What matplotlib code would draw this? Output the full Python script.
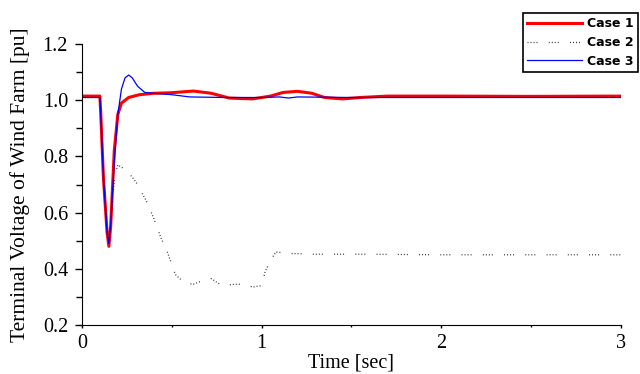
import matplotlib
matplotlib.use("Agg")
from matplotlib import pyplot as plt
from matplotlib.ticker import MultipleLocator

# Case 1 (red, thick)
t1 = [0.0, 0.10, 0.105, 0.12, 0.14, 0.15, 0.16, 0.18, 0.20, 0.22, 0.26, 0.32, 0.40,
      0.50, 0.62, 0.72, 0.82, 0.95, 1.05, 1.12, 1.20, 1.28, 1.35, 1.45, 1.55, 1.7, 2.0, 2.5, 3.0]
v1 = [1.015, 1.015, 0.95, 0.72, 0.53, 0.48, 0.55, 0.82, 0.95, 0.99, 1.01, 1.02, 1.025,
      1.027, 1.033, 1.025, 1.008, 1.005, 1.015, 1.028, 1.032, 1.025, 1.01, 1.005, 1.01, 1.015, 1.015, 1.014, 1.015]

# Case 2 (black dotted)
t2 = [0.0, 0.10, 0.105, 0.12, 0.14, 0.15, 0.16, 0.18, 0.20, 0.25, 0.30, 0.36, 0.40,
      0.44, 0.47, 0.52, 0.57, 0.62, 0.68, 0.72, 0.78, 0.85, 0.90, 0.95, 1.00, 1.02,
      1.05, 1.08, 1.15, 1.3, 1.6, 2.0, 2.5, 3.0]
v2 = [1.01, 1.01, 0.95, 0.75, 0.55, 0.50, 0.55, 0.72, 0.77, 0.75, 0.71, 0.64, 0.58,
      0.51, 0.47, 0.38, 0.35, 0.345, 0.36, 0.365, 0.34, 0.345, 0.345, 0.335, 0.34, 0.39,
      0.43, 0.46, 0.455, 0.452, 0.452, 0.45, 0.45, 0.45]

# Case 3 (blue, thin)
t3 = [0.0, 0.10, 0.105, 0.12, 0.14, 0.15, 0.16, 0.18, 0.20, 0.22, 0.24, 0.26, 0.28,
      0.31, 0.35, 0.40, 0.50, 0.60, 0.80, 1.0, 1.1, 1.15, 1.2, 1.5, 2.0, 2.5, 3.0]
v3 = [1.01, 1.01, 0.95, 0.72, 0.53, 0.49, 0.56, 0.78, 0.95, 1.04, 1.08, 1.09, 1.08,
      1.05, 1.028, 1.025, 1.02, 1.012, 1.01, 1.01, 1.012, 1.008, 1.012, 1.01, 1.01, 1.01, 1.01]

plt.rcParams["font.family"] = "Liberation Serif"

fig = plt.figure(figsize=(6.4, 3.74), dpi=100)
ax = fig.add_axes([0.128, 0.131, 0.842, 0.751])

ax.plot(t1, v1, color="red", linewidth=2.2, label="Case 1")
ax.plot(t2, v2, color="#333333", linewidth=0.9,
        linestyle=(0, (0.8, 1.6, 0.8, 1.6, 0.8, 1.6, 0.8, 9)), label="Case 2")
ax.plot(t3, v3, color="blue", linewidth=0.9, label="Case 3")

ax.set_xlim(0, 3)
ax.set_ylim(0.2, 1.2)
ax.xaxis.set_major_locator(MultipleLocator(1))
ax.xaxis.set_minor_locator(MultipleLocator(0.5))
ax.yaxis.set_major_locator(MultipleLocator(0.2))
ax.yaxis.set_minor_locator(MultipleLocator(0.1))
ax.yaxis.set_major_formatter(plt.FormatStrFormatter("%.1f"))
ax.spines["top"].set_visible(False)
ax.spines["right"].set_visible(False)
ax.tick_params(axis="y", which="major", length=5, width=1, labelsize=14.5, pad=5)
ax.tick_params(axis="y", which="minor", length=4, width=1)
ax.tick_params(axis="x", which="major", length=2.5, width=1, labelsize=14.5, pad=4)
ax.tick_params(axis="x", which="minor", length=1.5, width=1)

ax.set_xlabel("Time [sec]", fontsize=14.5, labelpad=0)
ax.set_ylabel("Terminal Voltage of Wind Farm [pu]", fontsize=15.5)
ax.yaxis.set_label_coords(-0.097, 0.5)

leg = fig.legend(loc="upper right", bbox_to_anchor=(0.997, 0.965), borderaxespad=0,
                 fancybox=False, edgecolor="black", framealpha=1, borderpad=0.35,
                 handlelength=4.4, handletextpad=0.4, labelspacing=0.45,
                 prop={"family": "DejaVu Sans", "size": 9, "weight": "bold"})
leg.get_frame().set_linewidth(1.2)

fig.savefig("out.png", dpi=100)
